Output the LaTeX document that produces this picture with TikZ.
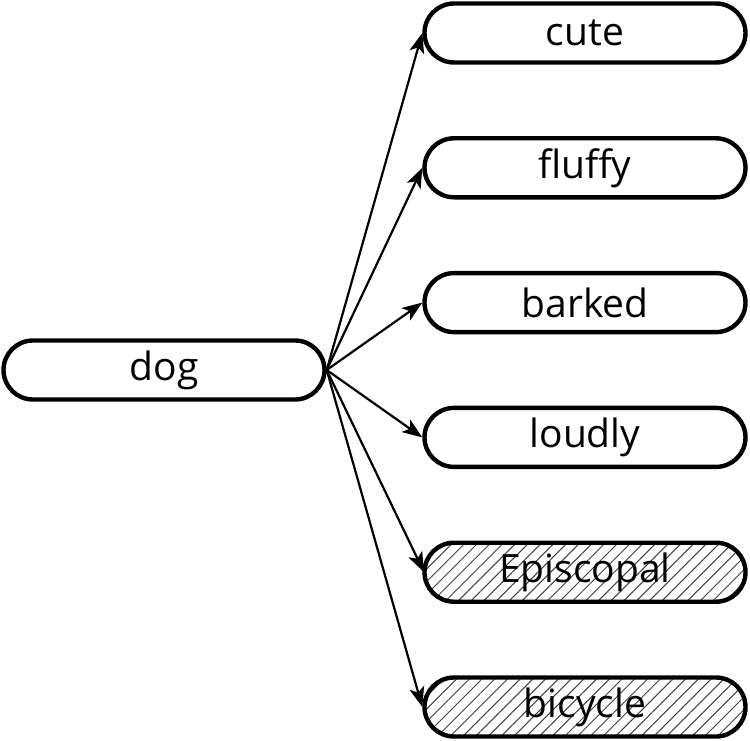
\documentclass[tikz,border=0pt]{standalone}
\usepackage{fontspec}
\setmainfont{Open Sans}
\usepackage{tikz}
\usetikzlibrary{arrows.meta,patterns.meta}

\tikzset{word/.style={draw, line width=4.4pt, rounded corners=29.5pt,
                      minimum width=321pt, minimum height=59pt, inner sep=0pt,
                      font=\fontsize{39}{41}\selectfont},
         noise/.style={word, pattern={Lines[angle=45,distance=9pt,line width=1pt]},
                       pattern color=black!75}}

\begin{document}
\begin{tikzpicture}[x=1pt, y=-1pt, grow'=right, level distance=421pt,
                    level 1/.style={sibling distance=134.8pt},
                    edge from parent/.style={draw, line width=2.2pt, -{Stealth[length=20pt,width=15pt,inset=5pt]}},
                    edge from parent path={(\tikzparentnode.east) -- (\tikzchildnode.west)}]
            \useasboundingbox (0,0) rectangle (750,741);
            \node[word] (dog) at (164,370) {dog}
                child {node[word] (cute) {cute}}
                child {node[word] (fluffy) {fluffy}}
                child {node[word] (barked) {barked}}
                child {node[word] (loudly) {loudly}}
                child {node[noise] (episcopal) {Episcopal}}
                child {node[noise] (bicycle) {bicycle}};
        \end{tikzpicture}
\end{document}
